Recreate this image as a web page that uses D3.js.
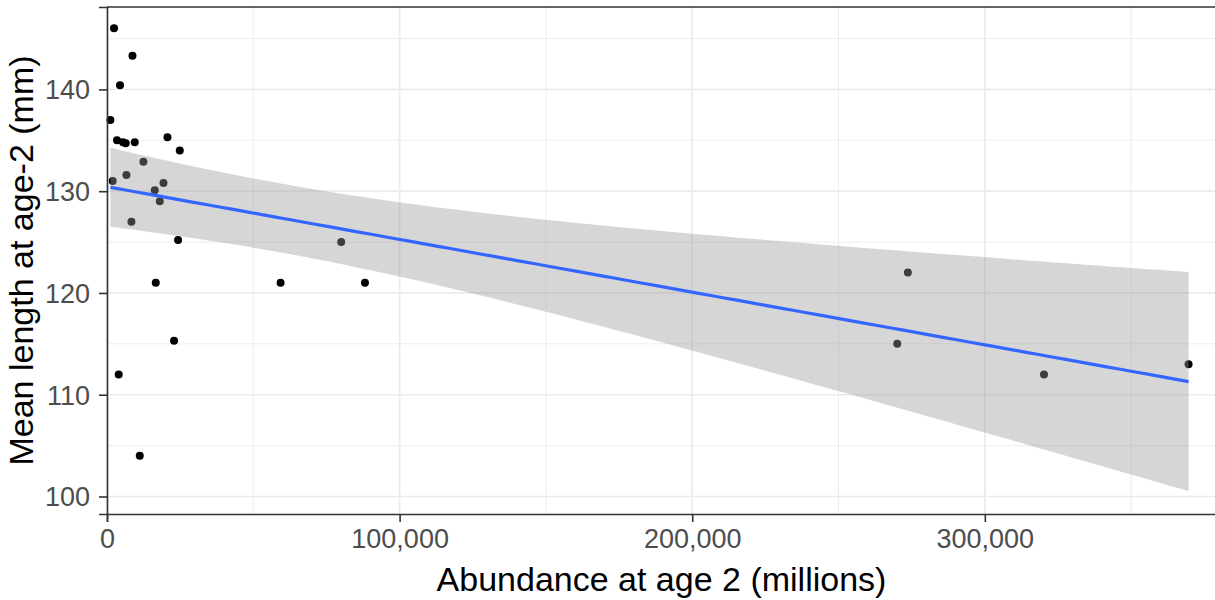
<!DOCTYPE html>
<html>
<head>
<meta charset="utf-8">
<script src="https://cdn.jsdelivr.net/npm/d3@7"></script>
<style>
  body { margin: 0; background: #fff; }
  text { font-family: "Liberation Sans", Arial, sans-serif; }
</style>
</head>
<body>
<div id="chart"></div>
<script>
// abundance at age 2 (millions) and mean length at age-2 (mm)
const abundance = [2400, 8700, 4450, 1160, 3420, 5470, 6400, 9480, 20660, 24870,
  12450, 6640, 1950, 19300, 16320, 18030, 8350, 24290, 16660, 22920,
  4000, 11190, 80050, 59320, 88160, 273690, 270060, 320220, 369620];
const meanLength = [146, 143.3, 140.4, 137, 135, 134.8, 134.7, 134.8, 135.3, 134,
  132.9, 131.6, 131, 130.8, 130.1, 129, 127, 125.2, 121, 115.3,
  112, 104, 125, 121, 121, 122, 115, 112, 113];

const xMajor = [0, 100000, 200000, 300000];
const xMinor = [50000, 150000, 250000, 350000];
const yMajor = [100, 110, 120, 130, 140];
const yMinor = [105, 115, 125, 135, 145];

const width = 1215, height = 600;
const margin = {top: 7, right: -1, bottom: 86, left: 107};
const innerW = width - margin.left - margin.right;
const innerH = height - margin.top - margin.bottom;

const svg = d3.select("#chart").append("svg")
  .attr("width", width)
  .attr("height", height);

const x = d3.scaleLinear().domain([0, 379000]).range([0, innerW]);
const y = d3.scaleLinear().domain([98.28, 148.1]).range([innerH, 0]);

const g = svg.append("g")
  .attr("transform", `translate(${margin.left},${margin.top})`);

// grid lines
g.selectAll(".xminor").data(xMinor).enter().append("line")
  .attr("x1", d => x(d)).attr("x2", d => x(d))
  .attr("y1", 0).attr("y2", innerH)
  .attr("stroke", "#ebebeb").attr("stroke-width", 0.9);
g.selectAll(".yminor").data(yMinor).enter().append("line")
  .attr("y1", d => y(d)).attr("y2", d => y(d))
  .attr("x1", 0).attr("x2", innerW)
  .attr("stroke", "#ebebeb").attr("stroke-width", 0.9);
g.selectAll(".xmajor").data(xMajor).enter().append("line")
  .attr("x1", d => x(d)).attr("x2", d => x(d))
  .attr("y1", 0).attr("y2", innerH)
  .attr("stroke", "#ebebeb").attr("stroke-width", 1.7);
g.selectAll(".ymajor").data(yMajor).enter().append("line")
  .attr("y1", d => y(d)).attr("y2", d => y(d))
  .attr("x1", 0).attr("x2", innerW)
  .attr("stroke", "#ebebeb").attr("stroke-width", 1.7);

// points
g.selectAll("circle").data(abundance).enter().append("circle")
  .attr("cx", d => x(d))
  .attr("cy", (d, i) => y(meanLength[i]))
  .attr("r", 4)
  .attr("fill", "#000");

// linear fit + 95% confidence band (like geom_smooth(method = "lm"))
const n = abundance.length;
const mx = d3.mean(abundance), my = d3.mean(meanLength);
let sxx = 0, sxy = 0;
abundance.forEach((d, i) => { sxx += (d - mx) ** 2; sxy += (d - mx) * (meanLength[i] - my); });
const slope = sxy / sxx;
const intercept = my - slope * mx;
let sse = 0;
abundance.forEach((d, i) => { sse += (meanLength[i] - (intercept + slope * d)) ** 2; });
const sigma = Math.sqrt(sse / (n - 2));
const tq = 2.0518; // qt(0.975, 27)

const xs = d3.range(80).map(i => d3.min(abundance) + i * (d3.max(abundance) - d3.min(abundance)) / 79);
const fit = xs.map(v => {
  const yh = intercept + slope * v;
  const se = sigma * Math.sqrt(1 / n + (v - mx) ** 2 / sxx);
  return {x: v, y: yh, lo: yh - tq * se, hi: yh + tq * se};
});

g.append("path").datum(fit)
  .attr("d", d3.area().x(d => x(d.x)).y0(d => y(d.lo)).y1(d => y(d.hi)))
  .attr("fill", "#999999").attr("fill-opacity", 0.4);

g.append("path").datum(fit)
  .attr("d", d3.line().x(d => x(d.x)).y(d => y(d.y)))
  .attr("fill", "none").attr("stroke", "#3366FF").attr("stroke-width", 3.2);

// panel top border
g.append("line")
  .attr("x1", 0).attr("x2", innerW).attr("y1", 0).attr("y2", 0)
  .attr("stroke", "#333").attr("stroke-width", 1.6);

// axes
const xAxis = g.append("g")
  .attr("transform", `translate(0,${innerH})`)
  .call(d3.axisBottom(x).tickValues(xMajor).tickFormat(d3.format(",")).tickSizeOuter(0).tickSize(8).tickPadding(7));
const yAxis = g.append("g")
  .call(d3.axisLeft(y).tickValues(yMajor).tickSizeOuter(0).tickSize(8).tickPadding(9));

[xAxis, yAxis].forEach(a => {
  a.select(".domain").attr("stroke", "#333").attr("stroke-width", 1.6);
  a.selectAll(".tick line").attr("stroke", "#333").attr("stroke-width", 1.6);
  a.selectAll(".tick text")
    .attr("fill", "#4d4d4d")
    .style("font-size", "27px")
    .style("font-family", "'Liberation Sans', Arial, sans-serif");
});
yAxis.selectAll(".tick text").attr("dy", "0.35em");

// axis titles
svg.append("text")
  .attr("x", margin.left + innerW / 2)
  .attr("y", 591)
  .attr("text-anchor", "middle")
  .style("font-size", "34px")
  .attr("fill", "#000")
  .text("Abundance at age 2 (millions)");

svg.append("text")
  .attr("transform", `translate(33,${margin.top + innerH / 2}) rotate(-90)`)
  .attr("text-anchor", "middle")
  .style("font-size", "34px")
  .attr("fill", "#000")
  .text("Mean length at age-2 (mm)");
</script>
</body>
</html>
